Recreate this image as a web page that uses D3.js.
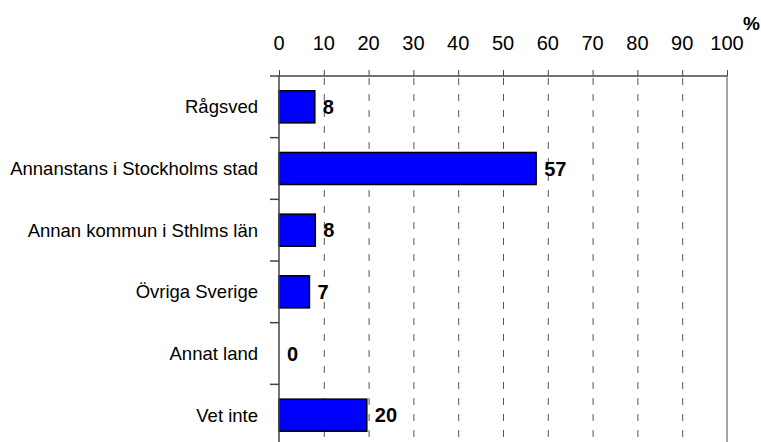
<!DOCTYPE html>
<html>
<head>
    <meta charset="utf-8">
    <title>Rågsved</title>
    <script src="https://cdn.jsdelivr.net/npm/d3@7"></script>
    <style>
        body { margin: 0; background: #fff; }
        svg { display: block; font-family: "Liberation Sans", Arial, sans-serif; }
        .cat { font-size: 18.5px; fill: #000; }
        .tick-label { font-size: 20px; fill: #000; }
        .val { font-size: 20px; font-weight: bold; fill: #000; }
    </style>
</head>
<body>
<svg width="761" height="442"></svg>
<script>

var categories = [
    'Rågsved',
    'Annanstans i Stockholms stad',
    'Annan kommun i Sthlms län',
    'Övriga Sverige',
    'Annat land',
    'Vet inte'
];
var values = [8.0, 57.4, 8.1, 6.8, 0, 19.6];
var xTicks = [0, 10, 20, 30, 40, 50, 60, 70, 80, 90, 100];

var svg = d3.select('svg'),
    plotLeft = 279,
    plotRight = 727,
    plotTop = 76,
    plotBottom = 446;

var x = d3.scaleLinear().domain([0, 100]).range([plotLeft, plotRight]);
var y = d3.scaleBand()
    .domain(categories)
    .range([plotTop, plotBottom])
    .paddingInner(0.48)
    .paddingOuter(0.24);

// dashed grid lines
svg.append('g')
    .selectAll('line')
    .data(xTicks.filter(function (d) { return d > 0 && d < 100; }))
    .enter()
    .append('line')
    .attr('x1', function (d) { return x(d) + 0.5; })
    .attr('x2', function (d) { return x(d) + 0.5; })
    .attr('y1', plotTop + 2)
    .attr('y2', 442)
    .attr('stroke', '#555')
    .attr('stroke-width', 1)
    .attr('stroke-dasharray', '7,9');

// right frame line
svg.append('line')
    .attr('x1', x(100)).attr('x2', x(100))
    .attr('y1', plotTop).attr('y2', 442)
    .attr('stroke', '#888')
    .attr('stroke-width', 1.5);

// bars
svg.append('g')
    .selectAll('rect')
    .data(values)
    .enter()
    .append('rect')
    .attr('x', x(0))
    .attr('y', function (d, i) { return y(categories[i]); })
    .attr('width', function (d) { return x(d) - x(0); })
    .attr('height', y.bandwidth())
    .attr('fill', '#0000ff')
    .attr('stroke', function (d) { return d > 0 ? '#000' : 'none'; })
    .attr('stroke-width', 1.5);

// value labels
svg.append('g')
    .selectAll('text')
    .data(values)
    .enter()
    .append('text')
    .attr('class', 'val')
    .attr('x', function (d) { return x(d) + 8; })
    .attr('y', function (d, i) { return y(categories[i]) + y.bandwidth() / 2 + 7; })
    .text(function (d) { return Math.round(d); });

// top axis
var xAxis = d3.axisTop(x)
    .tickValues(xTicks)
    .tickSize(6)
    .tickFormat('');
var gx = svg.append('g')
    .attr('transform', 'translate(0,' + plotTop + ')')
    .call(xAxis);
gx.select('.domain').remove();
gx.selectAll('line').attr('stroke', '#444').attr('stroke-width', 1);
svg.append('line')
    .attr('x1', plotLeft - 9).attr('x2', plotRight)
    .attr('y1', plotTop).attr('y2', plotTop)
    .attr('stroke', '#444')
    .attr('stroke-width', 1.5);

svg.append('g')
    .selectAll('text')
    .data(xTicks)
    .enter()
    .append('text')
    .attr('class', 'tick-label')
    .attr('x', function (d) { return x(d); })
    .attr('y', 50)
    .attr('text-anchor', 'middle')
    .text(function (d) { return d; });

svg.append('text')
    .attr('x', 743)
    .attr('y', 30)
    .style('font-size', '19px')
    .style('font-weight', 'bold')
    .text('%');

// left axis with ticks between categories
svg.append('line')
    .attr('x1', plotLeft).attr('x2', plotLeft)
    .attr('y1', plotTop).attr('y2', 442)
    .attr('stroke', '#444')
    .attr('stroke-width', 1.5);

var step = y.step();
var boundaries = categories.map(function (c) { return y(c) - y.paddingOuter() * step; })
    .slice(1);
svg.append('g')
    .selectAll('line')
    .data(boundaries)
    .enter()
    .append('line')
    .attr('x1', plotLeft - 9).attr('x2', plotLeft)
    .attr('y1', function (d) { return d; })
    .attr('y2', function (d) { return d; })
    .attr('stroke', '#444')
    .attr('stroke-width', 1.5);

svg.append('g')
    .selectAll('text')
    .data(categories)
    .enter()
    .append('text')
    .attr('class', 'cat')
    .attr('x', 258)
    .attr('y', function (d) { return y(d) + y.bandwidth() / 2 + 6.5; })
    .attr('text-anchor', 'end')
    .text(function (d) { return d; });

</script>
</body>
</html>
